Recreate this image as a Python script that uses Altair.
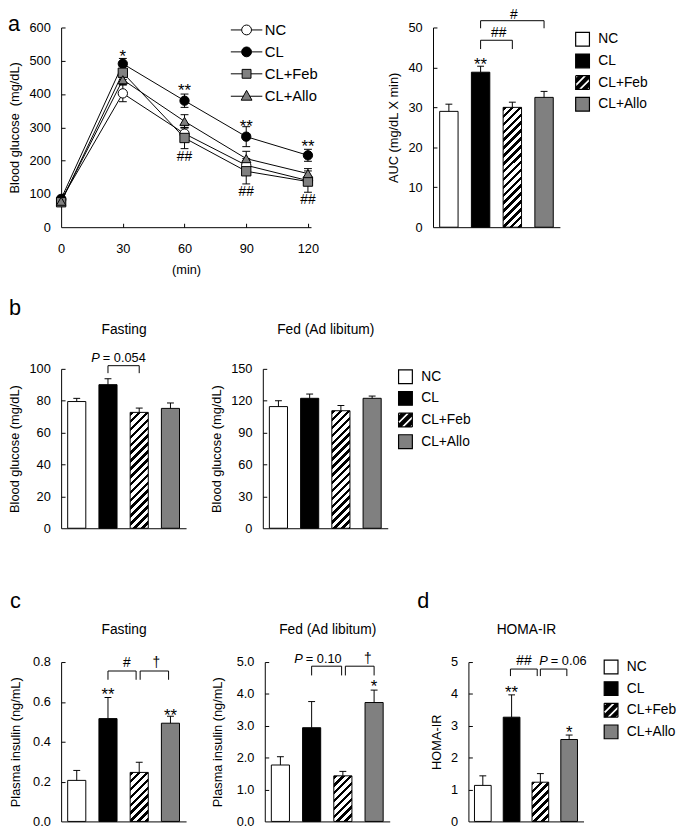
import altair as alt
import pandas as pd

FONT = "Liberation Sans"
GRAY = "#808080"

groups = ["NC", "CL", "CL+Feb", "CL+Allo"]
group_pos = [0, 1, 2, 3]

# ---------------- (a) glucose tolerance test ----------------
gtt_time = [0, 30, 60, 90, 120]
gtt_nc = [82, 402, 281, 186, 140]
gtt_cl = [85, 491, 380, 272, 216]
gtt_feb = [75, 464, 268, 168, 137]
gtt_allo = [78, 443, 318, 206, 161]
gtt_nc_sem = [6, 25, 18, 14, 12]
gtt_cl_sem = [6, 16, 20, 30, 18]
gtt_feb_sem = [6, 20, 32, 38, 32]
gtt_allo_sem = [5, 14, 20, 22, 15]

gtt_lab_t = [30, 60, 90, 120, 60, 90, 120]
gtt_lab_y = [527, 423, 317, 254, 210, 106, 82]
gtt_lab_txt = ["*", "**", "**", "**", "##", "##", "##"]
gtt_lab_kind = ["star", "star", "star", "star", "sym", "sym", "sym"]

# ---------------- (a) AUC ----------------
auc_mean = [29.0, 38.8, 30.0, 32.5]
auc_sem = [1.8, 1.5, 1.3, 1.5]
auc_brk_x1 = [1.0, 1.0]
auc_brk_x2 = [2.0, 3.0]
auc_brk_top = [46.8, 51.7]
auc_brk_bot = [44.6, 49.8]
auc_lab_x = [1.0, 1.57, 2.05]
auc_lab_y = [41.9, 48.5, 53.2]
auc_lab_txt = ["**", "##", "#"]
auc_lab_kind = ["star", "sym", "sym"]

# ---------------- (b) blood glucose ----------------
bf_mean = [79.5, 90.1, 72.7, 75.2]
bf_sem = [2.0, 3.7, 2.7, 3.4]
bf_brk_x1 = [1.0]
bf_brk_x2 = [2.0]
bf_brk_top = [102.0]
bf_brk_bot = [97.3]
bf_lab_x = [0.74]
bf_lab_y = [107.0]
bf_lab_txt = ["= 0.054"]
bf_lab_kind = ["p"]

bd_mean = [114.5, 122.3, 110.6, 122.3]
bd_sem = [5.5, 4.0, 4.9, 2.1]

# ---------------- (c) plasma insulin ----------------
cf_mean = [0.206, 0.516, 0.246, 0.493]
cf_sem = [0.050, 0.106, 0.051, 0.035]
cf_brk_x1 = [1.0, 2.03]
cf_brk_x2 = [1.9, 2.94]
cf_brk_top = [0.755, 0.755]
cf_brk_bot = [0.711, 0.711]
cf_lab_x = [1.0, 3.0, 1.6, 2.55]
cf_lab_y = [0.657, 0.553, 0.795, 0.795]
cf_lab_txt = ["**", "**", "#", "\u2020"]
cf_lab_kind = ["star", "star", "sym", "sym"]

cd_mean = [1.77, 2.94, 1.43, 3.73]
cd_sem = [0.26, 0.82, 0.14, 0.39]
cd_brk_x1 = [1.0, 2.08]
cd_brk_x2 = [1.96, 3.0]
cd_brk_top = [4.87, 4.87]
cd_brk_bot = [4.58, 4.58]
cd_lab_x = [3.0, 0.72, 2.8]
cd_lab_y = [4.38, 5.09, 5.09]
cd_lab_txt = ["*", "= 0.10", "\u2020"]
cd_lab_kind = ["star", "p", "sym"]

# ---------------- (d) HOMA-IR ----------------
hm_mean = [1.13, 3.27, 1.23, 2.57]
hm_sem = [0.30, 0.70, 0.27, 0.14]
hm_brk_x1 = [0.96, 2.0]
hm_brk_x2 = [1.89, 2.92]
hm_brk_top = [4.78, 4.78]
hm_brk_bot = [4.56, 4.56]
hm_lab_x = [1.0, 3.0, 1.43, 2.26]
hm_lab_y = [4.17, 2.93, 5.04, 5.04]
hm_lab_txt = ["**", "*", "##", "= 0.06"]
hm_lab_kind = ["star", "star", "sym", "p"]

# legend symbol paths
LINE_SYM = [
    "M-1.6,0H-0.5M0.5,0H1.6M0.5,0A0.5,0.5,0,1,1,-0.5,0A0.5,0.5,0,1,1,0.5,0Z",
    "M-1.6,0H-0.5M0.5,0H1.6M0.5,0A0.5,0.5,0,1,1,-0.5,0A0.5,0.5,0,1,1,0.5,0Z",
    "M-1.6,0H-0.45M0.45,0H1.6M-0.45,-0.45H0.45V0.45H-0.45Z",
    "M-1.6,0.05H-0.3M0.3,0.05H1.6M0,-0.55L0.55,0.45L-0.55,0.45Z",
]
HATCH_SYM = (
    "M-1,-1H1M1,-1V1M1,1H-1M-1,1V-1"
    "M-0.5,-1L0.1,-1L-1,0.1L-1,-0.5Z"
    "M0.7,-1L1,-1L1,-0.7L-0.7,1L-1,1L-1,0.7Z"
    "M-0.1,1L0.5,1L1,0.5L1,-0.1Z"
)
BAR_SYM = ["square", "square", HATCH_SYM, "square"]


def hatch_fill(w, h, period=8.0, frac=0.45):
    total = w + h
    k = total / (w * w + h * h)
    stops = []
    i = 0
    while True:
        a = i * period / total
        if a >= 1:
            break
        b = min((i + frac) * period / total, 1.0)
        c = min((i + 1) * period / total, 1.0)
        stops += [
            {"offset": round(a, 4), "color": "black"},
            {"offset": round(b, 4), "color": "black"},
            {"offset": round(b, 4), "color": "white"},
            {"offset": round(c, 4), "color": "white"},
        ]
        i += 1
    return {"gradient": "linear", "x1": 0, "y1": 0,
            "x2": round(k * w, 5), "y2": round(k * h, 5), "stops": stops}


def text_layers(lx, ly, txt, kind, xsc, ysc):
    df = pd.DataFrame({"lx": lx, "ly": ly, "txt": txt, "kind": kind})
    base = alt.Chart(df)
    enc = dict(x=alt.X("lx:Q", scale=xsc, axis=None), y=alt.Y("ly:Q", scale=ysc, axis=None))
    stars = base.transform_filter("datum.kind == 'star'").mark_text(
        font=FONT, fontSize=17, baseline="middle", dy=5, color="black").encode(text="txt:N", **enc)
    syms = base.transform_filter("datum.kind == 'sym'").mark_text(
        font=FONT, fontSize=14, baseline="middle", color="black").encode(text="txt:N", **enc)
    pit = base.transform_filter("datum.kind == 'p'").mark_text(
        font=FONT, fontSize=13, fontStyle="italic", baseline="middle", align="right",
        color="black", text="P").encode(**enc)
    prest = base.transform_filter("datum.kind == 'p'").mark_text(
        font=FONT, fontSize=13, baseline="middle", align="left", dx=3,
        color="black").encode(text="txt:N", **enc)
    return [stars, syms, pit, prest]


def letter(t, dx, offset):
    return alt.Title(t, anchor="start", frame="group", dx=dx, offset=offset, fontSize=22,
                     font=FONT, fontWeight="normal", baseline="alphabetic", color="black")


def legend_layer(df, xfield, yfield, xsc, ysc, shapes, fills, lg, size, sw):
    return alt.Chart(df).transform_filter("false").mark_point(
        filled=True, opacity=1, size=size, strokeWidth=sw).encode(
        x=alt.X(xfield, scale=xsc, axis=None),
        y=alt.Y(yfield, scale=ysc, axis=None),
        shape=alt.Shape("group:N", scale=alt.Scale(domain=groups, range=shapes), legend=alt.Legend(**lg)),
        fill=alt.Fill("group:N", scale=alt.Scale(domain=groups, range=fills), legend=alt.Legend(**lg)),
        stroke=alt.Stroke("group:N", scale=alt.Scale(domain=groups, range=["black"] * 4),
                          legend=alt.Legend(**lg)),
    )


def bar_panel(vals, sems, ymax, ystep, yfmt, ytitle, W, H, top_title=None, top_d=30,
              brk=None, labs=None, legend_xy=None, title=None, ytitle_pad=6):
    df = pd.DataFrame({"group": groups, "pos": group_pos, "value": vals, "sem": sems})
    df["top"] = df["value"] + df["sem"]
    n = int(round(ymax / ystep))
    yticks = [round(i * ystep, 6) for i in range(n + 1)]
    xsc = alt.Scale(domain=[-0.5, 3.5], nice=False, zero=False)
    ysc = alt.Scale(domain=[0, ymax], nice=False)
    bw = 0.58 * W / 4.0
    grad = hatch_fill(bw, vals[2] / ymax * H)

    xaxis_kw = dict(domain=True, ticks=False, labels=False, grid=False, title=top_title)
    if top_title:
        xaxis_kw.update(titleY=-(H + top_d), titleBaseline="alphabetic", titleFontSize=14)
    bars = alt.Chart(df).transform_calculate(
        x0="datum.pos - 0.29", x1="datum.pos + 0.29"
    ).mark_bar(stroke="black", strokeWidth=1).encode(
        x=alt.X("x0:Q", scale=xsc, axis=alt.Axis(**xaxis_kw)),
        x2="x1:Q",
        y=alt.Y("value:Q", scale=ysc, axis=alt.Axis(
            values=yticks, format=yfmt, ticks=False, tickSize=0, labelPadding=11,
            title=ytitle, titlePadding=ytitle_pad, grid=False, labelFlush=False)),
        y2=alt.datum(0),
        fill=alt.condition("datum.group == 'CL+Feb'", alt.value(grad),
                           alt.Fill("group:N", scale=alt.Scale(domain=groups, range=["white", "black", "white", GRAY]),
                                    legend=None)),
    )
    err = alt.Chart(df).mark_rule(color="black", strokeWidth=1).encode(
        x=alt.X("pos:Q", scale=xsc, axis=None),
        y=alt.Y("value:Q", scale=ysc, axis=alt.Axis(
            orient="right", offset=-W, values=yticks[1:], labels=False, domain=False,
            ticks=True, tickSize=4, title=None, grid=False)),
        y2="top:Q",
    )
    caps = alt.Chart(df).mark_tick(orient="horizontal", size=7, thickness=1, color="black", opacity=1).encode(
        x=alt.X("pos:Q", scale=xsc, axis=None),
        y=alt.Y("top:Q", scale=ysc, axis=None),
    )
    layers = [bars, err, caps]
    if brk:
        bdf = pd.DataFrame({"xa": brk[0], "xb": brk[1], "yt": brk[2], "yb": brk[3]})
        hor = alt.Chart(bdf).mark_rule(color="black", strokeWidth=1).encode(
            x=alt.X("xa:Q", scale=xsc, axis=None), x2="xb:Q",
            y=alt.Y("yt:Q", scale=ysc, axis=None))
        ver = alt.Chart(bdf).transform_fold(["xa", "xb"], as_=["side", "xv"]).mark_rule(
            color="black", strokeWidth=1).encode(
            x=alt.X("xv:Q", scale=xsc, axis=None),
            y=alt.Y("yt:Q", scale=ysc, axis=None), y2="yb:Q")
        layers += [hor, ver]
    if labs:
        layers += text_layers(labs[0], labs[1], labs[2], labs[3], xsc, ysc)
    if legend_xy is not None:
        lg = dict(orient="none", legendX=legend_xy[0], legendY=legend_xy[1], title=None,
                  labelFontSize=14, labelFont=FONT, labelColor="black", symbolSize=196,
                  symbolStrokeWidth=1.2, rowPadding=2, labelOffset=8, padding=0)
        layers.append(legend_layer(df, "pos:Q", "value:Q", xsc, ysc, BAR_SYM,
                                   ["white", "black", "black", GRAY], lg, 196, 1.2))
    ch = alt.layer(*layers).resolve_scale(fill="independent", shape="independent",
                                          stroke="independent").resolve_axis(
        x="independent", y="independent")
    props = dict(width=W, height=H)
    if title is not None:
        props["title"] = title
    return ch.properties(**props)


# ---------------- line chart ----------------
rows = []
for g, m, s in [("NC", gtt_nc, gtt_nc_sem), ("CL", gtt_cl, gtt_cl_sem),
                ("CL+Feb", gtt_feb, gtt_feb_sem), ("CL+Allo", gtt_allo, gtt_allo_sem)]:
    for t, mv, sv in zip(gtt_time, m, s):
        rows.append({"group": g, "t": t, "mean": mv, "lo": mv - sv, "hi": mv + sv})
gtt_df = pd.DataFrame(rows)

LW, LH = 254, 203
lxs = alt.Scale(domain=[0, 121.5], nice=False, zero=False)
lys = alt.Scale(domain=[0, 600], nice=False)
ly_ticks = [0, 100, 200, 300, 400, 500, 600]

l_err = alt.Chart(gtt_df).mark_rule(color="black", strokeWidth=1).encode(
    x=alt.X("t:Q", scale=lxs, axis=alt.Axis(orient="top", offset=-LH, values=gtt_time[1:], labels=False,
                                            domain=False, ticks=True, tickSize=4, title=None, grid=False)),
    y=alt.Y("lo:Q", scale=lys, axis=alt.Axis(orient="right", offset=-LW, values=ly_ticks[1:], labels=False,
                                             domain=False, ticks=True, tickSize=4, title=None, grid=False)),
    y2="hi:Q",
)
l_caps = alt.Chart(gtt_df).transform_fold(["lo", "hi"], as_=["k", "v"]).mark_tick(
    orient="horizontal", size=8, thickness=1, color="black", opacity=1).encode(
    x=alt.X("t:Q", scale=lxs, axis=None), y=alt.Y("v:Q", scale=lys, axis=None))
l_lines = alt.Chart(gtt_df).mark_line(color="black", strokeWidth=1).encode(
    x=alt.X("t:Q", scale=lxs, axis=None), y=alt.Y("mean:Q", scale=lys, axis=None), detail="group:N")
l_pts = alt.Chart(gtt_df).mark_point(filled=True, stroke="black", strokeWidth=1, opacity=1, size=90).encode(
    x=alt.X("t:Q", scale=lxs, axis=alt.Axis(values=gtt_time, ticks=False, tickSize=0, labelPadding=16,
                                            title="(min)", titlePadding=8, grid=False, labelFlush=False)),
    y=alt.Y("mean:Q", scale=lys, axis=alt.Axis(values=ly_ticks, ticks=False, tickSize=0, labelPadding=11,
                                               title="Blood glucose\u00a0 (mg/dL)", titlePadding=8,
                                               grid=False, labelFlush=False)),
    shape=alt.Shape("group:N", scale=alt.Scale(domain=groups, range=["circle", "circle", "square", "triangle-up"]),
                    legend=None),
    fill=alt.Fill("group:N", scale=alt.Scale(domain=groups, range=["white", "black", GRAY, GRAY]), legend=None),
)
llg = dict(orient="none", legendX=178, legendY=-8, title=None, labelFontSize=15, labelFont=FONT,
           labelColor="black", symbolSize=400, symbolStrokeWidth=1,
           rowPadding=3.3, labelOffset=8, padding=0)
l_leg = legend_layer(gtt_df, "t:Q", "mean:Q", lxs, lys, LINE_SYM, ["white", "black", GRAY, GRAY], llg, 400, 1)
line_chart = alt.layer(
    l_err, l_caps, l_lines, l_pts,
    *text_layers(gtt_lab_t, gtt_lab_y, gtt_lab_txt, gtt_lab_kind, lxs, lys),
    l_leg,
).resolve_scale(fill="independent", shape="independent", stroke="independent").resolve_axis(
    x="independent", y="independent").properties(width=LW, height=LH, title=letter("a", -54, -34))

auc_chart = bar_panel(auc_mean, auc_sem, 50, 10, "d", "AUC (mg/dL X min)", 129, 203,
                      brk=[auc_brk_x1, auc_brk_x2, auc_brk_top, auc_brk_bot],
                      labs=[auc_lab_x, auc_lab_y, auc_lab_txt, auc_lab_kind],
                      legend_xy=(144, 4), ytitle_pad=8)

b_fast = bar_panel(bf_mean, bf_sem, 100, 20, "d", "Blood glucose (mg/dL)", 127, 162,
                   top_title="Fasting", top_d=36,
                   brk=[bf_brk_x1, bf_brk_x2, bf_brk_top, bf_brk_bot],
                   labs=[bf_lab_x, bf_lab_y, bf_lab_txt, bf_lab_kind],
                   title=letter("b", -53, -14), ytitle_pad=8)
b_fed = bar_panel(bd_mean, bd_sem, 150, 30, "d", "Blood glucose (mg/dL)", 127, 162,
                  top_title="Fed (Ad libitum)", top_d=36, legend_xy=(137, 0), ytitle_pad=7)

c_fast = bar_panel(cf_mean, cf_sem, 0.8, 0.2, ".1f", "Plasma insulin (ng/mL)", 127, 162,
                   top_title="Fasting", top_d=29,
                   brk=[cf_brk_x1, cf_brk_x2, cf_brk_top, cf_brk_bot],
                   labs=[cf_lab_x, cf_lab_y, cf_lab_txt, cf_lab_kind],
                   title=letter("c", -52, -7), ytitle_pad=10)
c_fed = bar_panel(cd_mean, cd_sem, 5.0, 1.0, ".1f", "Plasma insulin (ng/mL)", 127, 162,
                  top_title="Fed (Ad libitum)", top_d=29,
                  brk=[cd_brk_x1, cd_brk_x2, cd_brk_top, cd_brk_bot],
                  labs=[cd_lab_x, cd_lab_y, cd_lab_txt, cd_lab_kind], ytitle_pad=12)
homa = bar_panel(hm_mean, hm_sem, 5, 1, "d", "HOMA-IR", 117, 162,
                 top_title="HOMA-IR", top_d=29,
                 brk=[hm_brk_x1, hm_brk_x2, hm_brk_top, hm_brk_bot],
                 labs=[hm_lab_x, hm_lab_y, hm_lab_txt, hm_lab_kind],
                 legend_xy=(137, -3), title=letter("d", -52, -7), ytitle_pad=7)

row1 = alt.hconcat(line_chart, auc_chart, spacing=124, bounds="flush")
row2 = alt.hconcat(b_fast, b_fed, spacing=78, bounds="flush")
row3 = alt.hconcat(c_fast, c_fed, homa, spacing=80, bounds="flush")
lower = alt.vconcat(row2, row3, spacing=56)
chart = alt.vconcat(row1, lower, spacing=21).properties(
    padding={"left": 0, "top": -7, "right": 0, "bottom": 0}
).configure(
    font=FONT
).configure_axis(
    labelFont=FONT, titleFont=FONT, labelFontSize=13, titleFontSize=13, labelColor="black",
    titleColor="black", domainColor="black", tickColor="black", domainWidth=1, tickWidth=1,
    grid=False, titleFontWeight="normal"
).configure_view(stroke=None).configure_title(font=FONT, fontWeight="normal", color="black")

chart.save("out.html", embed_options={"renderer": "svg", "actions": False})
